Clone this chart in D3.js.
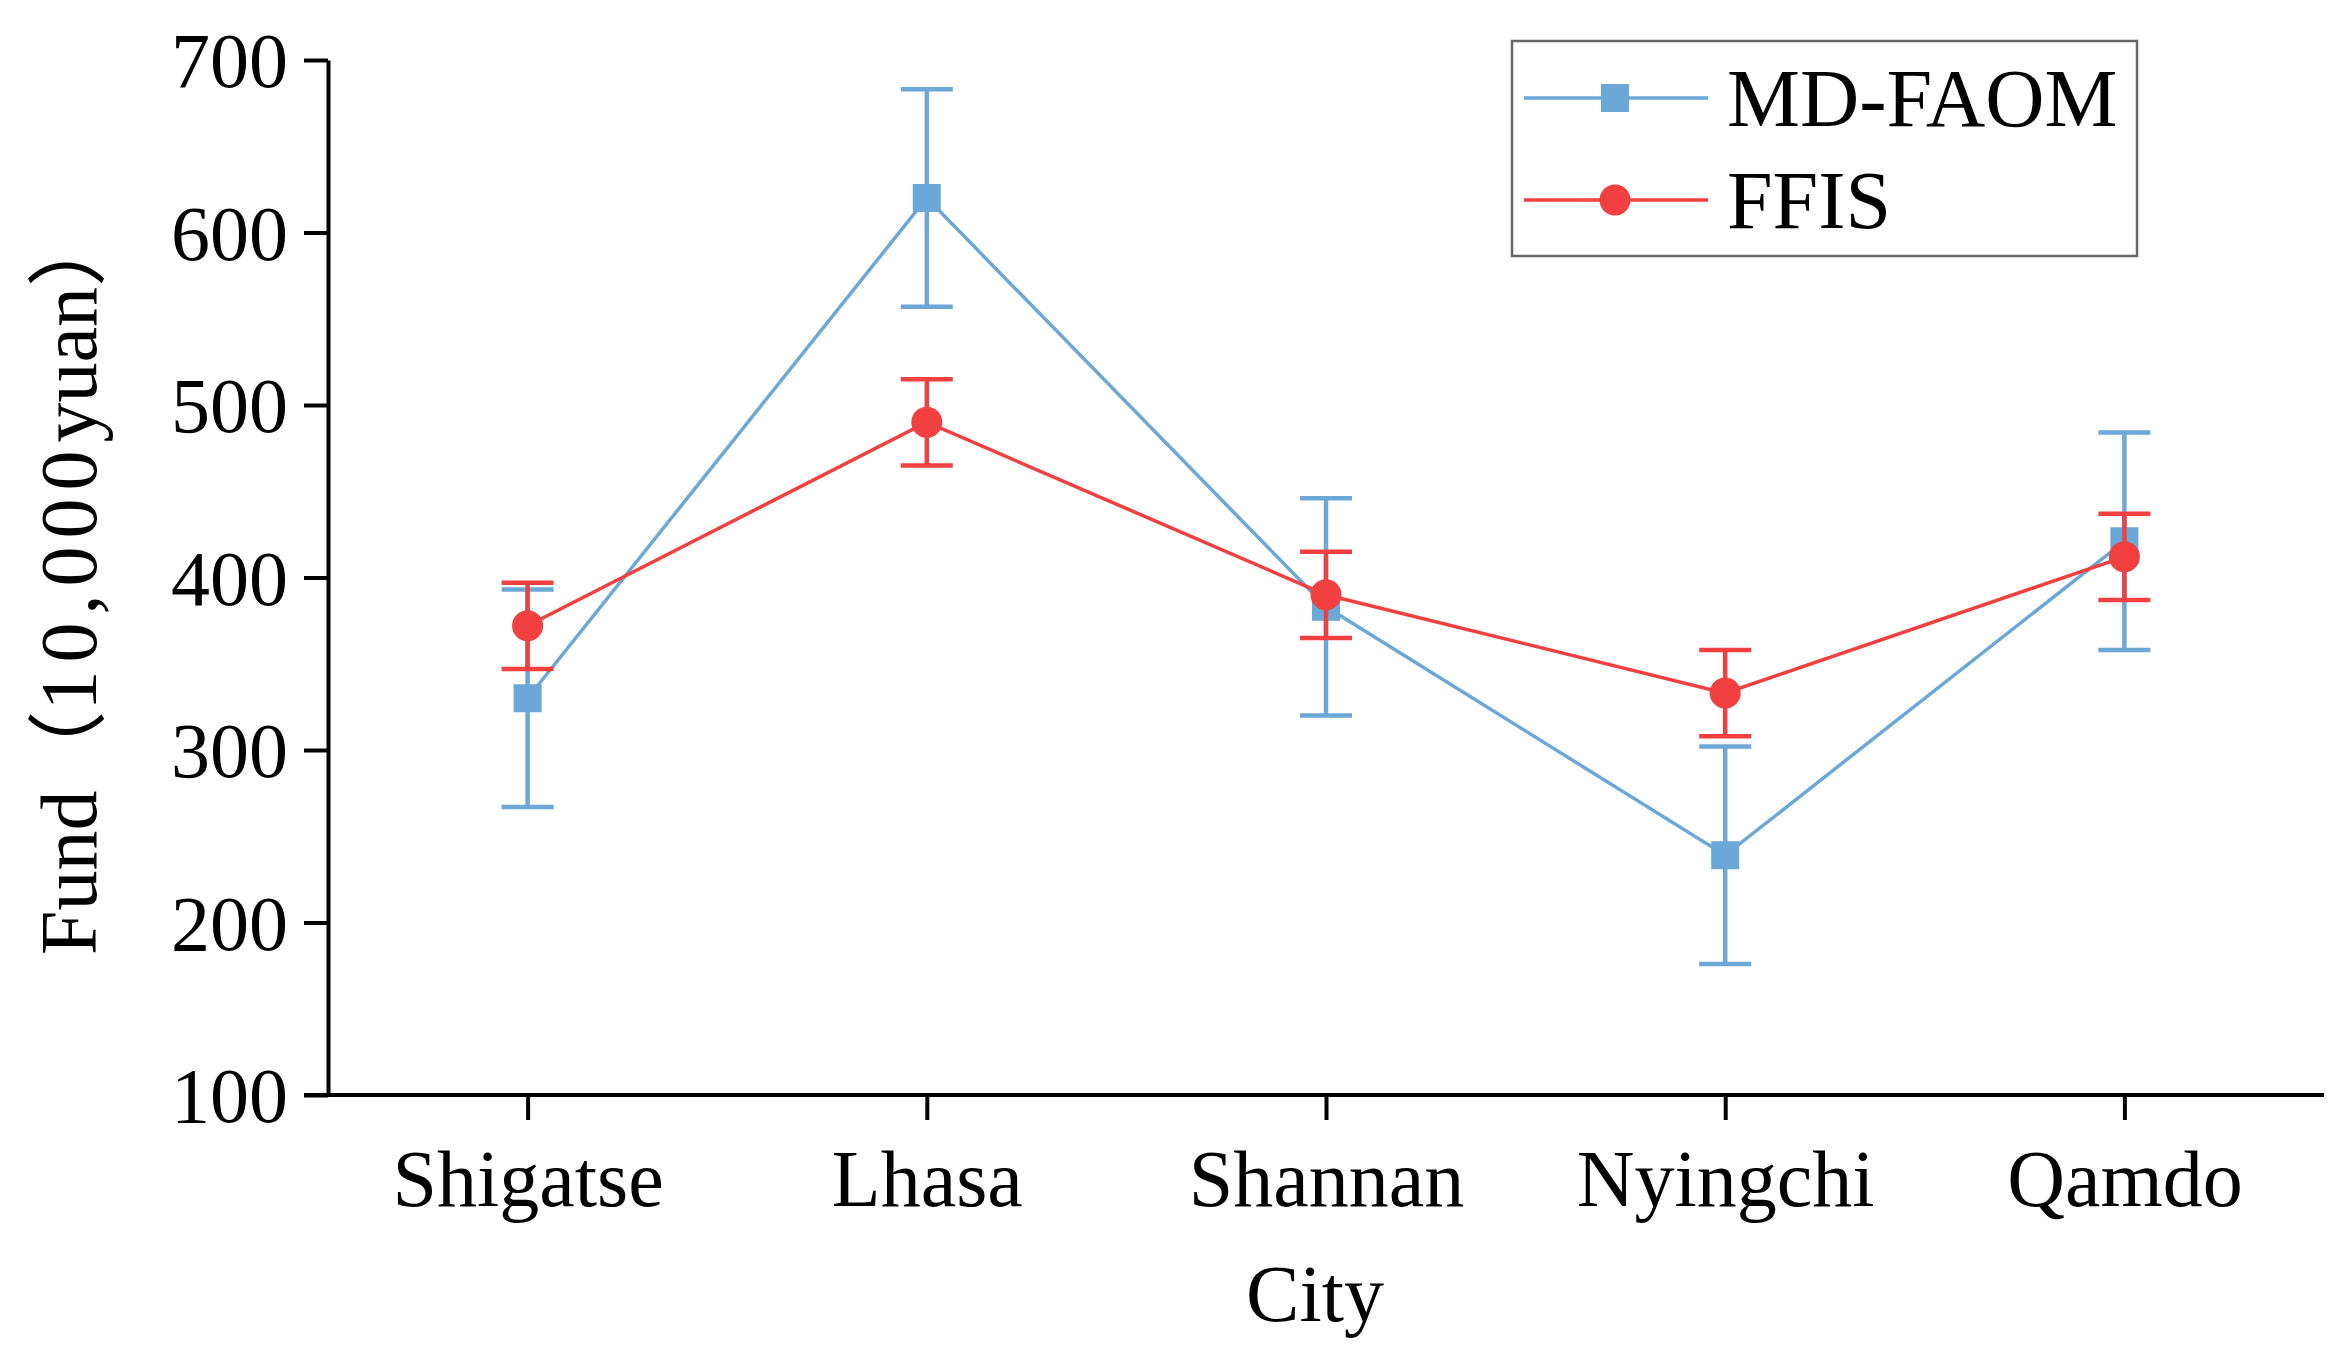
<!DOCTYPE html>
<html>
<head>
<meta charset="utf-8">
<script src="https://cdn.jsdelivr.net/npm/d3@7"></script>
<style>
    body { margin: 0; background: #fff; }
    text { font-family: "Liberation Serif", "Times New Roman", "Noto Sans CJK SC", serif; fill: #000; }
</style>
</head>
<body>
<svg id="chart"></svg>
<script>
// Data
const cities = ["Shigatse", "Lhasa", "Shannan", "Nyingchi", "Qamdo"];
const mdFaom = [330, 620, 383, 239, 421];
const mdFaomErr = [63, 63, 63, 63, 63];
const ffis = [372, 490, 390, 333, 412];
const ffisErr = [25, 25, 25, 25, 25];
const yTicks = [100, 200, 300, 400, 500, 600, 700];

const seriesList = [
    { name: "MD-FAOM", values: mdFaom, errors: mdFaomErr, color: "#6ba8d7", marker: "square" },
    { name: "FFIS", values: ffis, errors: ffisErr, color: "#f23f3f", marker: "circle" }
];

const width = 2347, height = 1366;
const margin = { top: 60, right: 23, bottom: 271, left: 328 };
const innerW = width - margin.left - margin.right;
const innerH = height - margin.top - margin.bottom;

const svg = d3.select("#chart").attr("width", width).attr("height", height);
const chart = svg.append("g").attr("transform", `translate(${margin.left},${margin.top})`);

const xScale = d3.scalePoint().domain(cities).range([0, innerW]).padding(0.5);
const yScale = d3.scaleLinear().domain([100, 700]).range([innerH, 0]);

// Axes
const xAxis = d3.axisBottom(xScale).tickSize(25).tickSizeOuter(0).tickPadding(14);
const yAxis = d3.axisLeft(yScale).tickValues(yTicks).tickSize(24).tickSizeOuter(0).tickPadding(16);

const xAxisG = chart.append("g")
    .attr("transform", `translate(0,${innerH})`)
    .call(xAxis);
// x axis line starts under the 100 tick
xAxisG.select(".domain").attr("d", `M-24,0H${innerW}`);

const yAxisG = chart.append("g").call(yAxis);

chart.selectAll(".domain, .tick line")
    .attr("stroke", "#000")
    .attr("stroke-width", 4);
xAxisG.selectAll(".tick text")
    .attr("font-size", 80)
    .attr("dy", "0.9em");
yAxisG.selectAll(".tick text")
    .attr("font-size", 78)
    .attr("dy", "0.34em");
chart.selectAll(".tick text").style("font-family", "'Liberation Serif', 'Times New Roman', serif");

// Axis titles
chart.append("text")
    .attr("x", innerW / 2 - 11)
    .attr("y", innerH + 226)
    .attr("text-anchor", "middle")
    .attr("font-size", 80)
    .text("City");

const yTitle = chart.append("text")
    .attr("transform", `translate(${-margin.left + 96},${955 - margin.top}) rotate(-90)`)
    .attr("text-anchor", "start")
    .attr("font-size", 80);
yTitle.append("tspan").text("Fund（");
yTitle.append("tspan").attr("letter-spacing", 8).text("10,000");
yTitle.append("tspan").text("yuan）");

// Series
const line = d3.line()
    .x((d, i) => xScale(cities[i]))
    .y(d => yScale(d));

const capHalf = 26;

seriesList.forEach(s => {
    const g = chart.append("g").attr("class", "series");

    g.append("path")
        .datum(s.values)
        .attr("fill", "none")
        .attr("stroke", s.color)
        .attr("stroke-width", 3.5)
        .attr("d", line);

    const errG = g.selectAll(".err")
        .data(s.values)
        .join("g")
        .attr("class", "err")
        .attr("stroke", s.color)
        .attr("stroke-width", 4.5);

    errG.append("line")
        .attr("x1", (d, i) => xScale(cities[i]))
        .attr("x2", (d, i) => xScale(cities[i]))
        .attr("y1", (d, i) => yScale(d + s.errors[i]))
        .attr("y2", (d, i) => yScale(d - s.errors[i]));

    errG.append("line")
        .attr("x1", (d, i) => xScale(cities[i]) - capHalf)
        .attr("x2", (d, i) => xScale(cities[i]) + capHalf)
        .attr("y1", (d, i) => yScale(d + s.errors[i]))
        .attr("y2", (d, i) => yScale(d + s.errors[i]));

    errG.append("line")
        .attr("x1", (d, i) => xScale(cities[i]) - capHalf)
        .attr("x2", (d, i) => xScale(cities[i]) + capHalf)
        .attr("y1", (d, i) => yScale(d - s.errors[i]))
        .attr("y2", (d, i) => yScale(d - s.errors[i]));

    if (s.marker === "square") {
        g.selectAll(".mark")
            .data(s.values)
            .join("rect")
            .attr("x", (d, i) => xScale(cities[i]) - 14)
            .attr("y", d => yScale(d) - 14)
            .attr("width", 28)
            .attr("height", 28)
            .attr("fill", s.color);
    } else {
        g.selectAll(".mark")
            .data(s.values)
            .join("circle")
            .attr("cx", (d, i) => xScale(cities[i]))
            .attr("cy", d => yScale(d))
            .attr("r", 15.5)
            .attr("fill", s.color);
    }
});

// Legend
const legend = svg.append("g").attr("transform", "translate(1512,41)");
legend.append("rect")
    .attr("width", 625)
    .attr("height", 215)
    .attr("fill", "#fff")
    .attr("stroke", "#666")
    .attr("stroke-width", 2.5);

seriesList.forEach((s, i) => {
    const row = legend.append("g").attr("transform", `translate(0,${57 + i * 102})`);
    row.append("line")
        .attr("x1", 12).attr("x2", 196)
        .attr("stroke", s.color)
        .attr("stroke-width", 3.5);
    if (s.marker === "square") {
        row.append("rect")
            .attr("x", 103 - 14).attr("y", -14)
            .attr("width", 28).attr("height", 28)
            .attr("fill", s.color);
    } else {
        row.append("circle")
            .attr("cx", 103).attr("r", 15.5)
            .attr("fill", s.color);
    }
    row.append("text")
        .attr("x", 215)
        .attr("dy", "0.34em")
        .attr("font-size", 82)
        .text(s.name);
});
</script>
</body>
</html>
